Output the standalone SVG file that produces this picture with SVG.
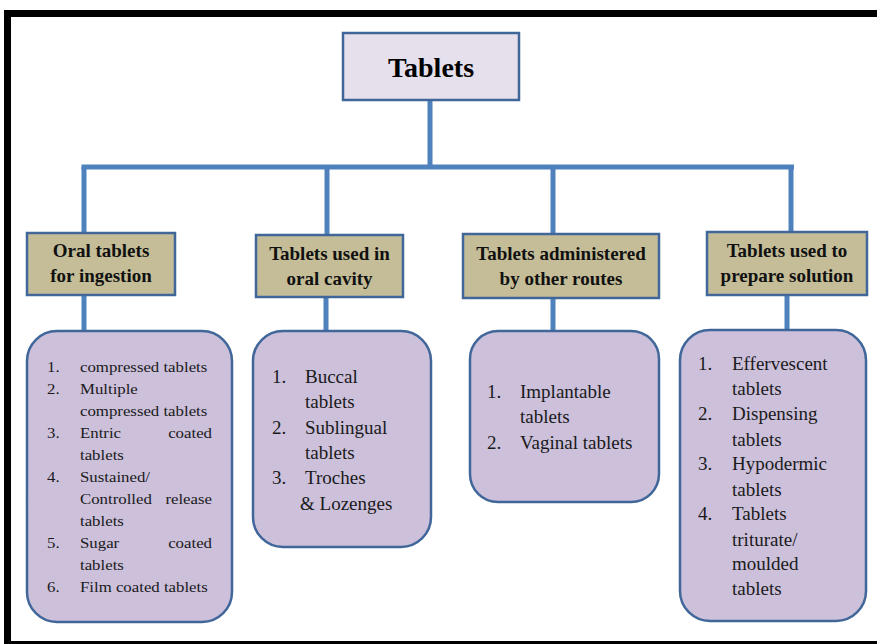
<svg xmlns="http://www.w3.org/2000/svg" width="877" height="644" viewBox="0 0 877 644">
<style>
.frame{fill:#ffffff;stroke:#000000;stroke-width:7}
.conn{stroke:#4f81bd;stroke-width:5;fill:none;stroke-linecap:butt}
.root{fill:#e5e0ec;stroke:#41679a;stroke-width:2.5}
.cat{fill:#c4bd97;stroke:#41679a;stroke-width:2.5}
.list{fill:#ccc0da;stroke:#41679a;stroke-width:2.5}
.title{font-family:"Liberation Serif","Times New Roman",serif;font-weight:bold;font-size:28px;fill:#000;text-anchor:middle}
.ct{font-family:"Liberation Serif","Times New Roman",serif;font-weight:bold;font-size:19px;fill:#111;text-anchor:middle}
.lt{font-family:"Liberation Serif","Times New Roman",serif;font-size:19px;fill:#1a1a1a}
.st{font-family:"Liberation Serif","Times New Roman",serif;font-size:14px;fill:#1a1a1a}
.e{text-anchor:end}
</style>
<rect x="0" y="0" width="877" height="644" fill="#ffffff"/>
<rect class="frame" x="7.5" y="13.5" width="900" height="631"/>

<g id="connectors">
<line class="conn" x1="430" y1="100" x2="430" y2="167"/>
<line class="conn" x1="81.5" y1="167" x2="794" y2="167"/>
<line class="conn" x1="84" y1="167" x2="84" y2="233"/>
<line class="conn" x1="327" y1="167" x2="327" y2="235"/>
<line class="conn" x1="553" y1="167" x2="553" y2="234"/>
<line class="conn" x1="791" y1="167" x2="791" y2="232"/>
<line class="conn" x1="84" y1="295" x2="84" y2="331"/>
<line class="conn" x1="326" y1="297" x2="326" y2="331"/>
<line class="conn" x1="553" y1="298" x2="553" y2="331"/>
<line class="conn" x1="787" y1="295" x2="787" y2="330"/>
</g>

<g id="tablets">
<rect class="root" x="343" y="33" width="176" height="67"/>
<text class="title" x="431" y="77">Tablets</text>
</g>

<g id="oral-tablets">
<rect class="cat" x="27" y="233" width="148" height="62"/>
<text class="ct" x="101" y="257">Oral tablets</text>
<text class="ct" x="101" y="282">for ingestion</text>
</g>

<g id="oral-cavity">
<rect class="cat" x="256" y="235" width="147" height="62"/>
<text class="ct" x="329.5" y="260">Tablets used in</text>
<text class="ct" x="329.5" y="285">oral cavity</text>
</g>

<g id="other-routes">
<rect class="cat" x="463" y="234" width="196" height="64"/>
<text class="ct" x="561" y="260">Tablets administered</text>
<text class="ct" x="561" y="285">by other routes</text>
</g>

<g id="prepare-solution">
<rect class="cat" x="707" y="232" width="160" height="63"/>
<text class="ct" x="787" y="257">Tablets used to</text>
<text class="ct" x="787" y="282">prepare solution</text>
</g>

<g id="list-oral">
<rect class="list" x="27" y="331" width="205" height="291" rx="30" ry="30"/>
<g transform="translate(80 0) scale(1.2 1)">
<text class="st" x="-27.5" y="372">1.</text><text class="st" x="0" y="372">compressed tablets</text>
<text class="st" x="-27.5" y="394">2.</text><text class="st" x="0" y="394">Multiple</text>
<text class="st" x="0" y="416">compressed tablets</text>
<text class="st" x="-27.5" y="438">3.</text><text class="st" x="0" y="438">Entric</text><text class="st e" x="110" y="438">coated</text>
<text class="st" x="0" y="460">tablets</text>
<text class="st" x="-27.5" y="482">4.</text><text class="st" x="0" y="482">Sustained/</text>
<text class="st" x="0" y="504">Controlled</text><text class="st e" x="110" y="504">release</text>
<text class="st" x="0" y="526">tablets</text>
<text class="st" x="-27.5" y="548">5.</text><text class="st" x="0" y="548">Sugar</text><text class="st e" x="110" y="548">coated</text>
<text class="st" x="0" y="570">tablets</text>
<text class="st" x="-27.5" y="592">6.</text><text class="st" x="0" y="592">Film coated tablets</text>
</g>
</g>

<g id="list-cavity">
<rect class="list" x="253" y="331" width="178" height="216" rx="30" ry="30"/>
<text class="lt" x="272" y="383">1.</text><text class="lt" x="305" y="383">Buccal</text>
<text class="lt" x="305" y="408">tablets</text>
<text class="lt" x="272" y="434">2.</text><text class="lt" x="305" y="434">Sublingual</text>
<text class="lt" x="305" y="459">tablets</text>
<text class="lt" x="272" y="484">3.</text><text class="lt" x="305" y="484">Troches</text>
<text class="lt" x="300" y="510">&amp; Lozenges</text>
</g>

<g id="list-routes">
<rect class="list" x="470" y="331" width="189" height="171" rx="28" ry="28"/>
<text class="lt" x="487" y="398">1.</text><text class="lt" x="520" y="398">Implantable</text>
<text class="lt" x="520" y="423">tablets</text>
<text class="lt" x="487" y="449">2.</text><text class="lt" x="520" y="449">Vaginal tablets</text>
</g>

<g id="list-solution">
<rect class="list" x="680" y="330" width="186" height="291" rx="30" ry="30"/>
<text class="lt" x="698" y="370">1.</text><text class="lt" x="732" y="370">Effervescent</text>
<text class="lt" x="732" y="395">tablets</text>
<text class="lt" x="698" y="420">2.</text><text class="lt" x="732" y="420">Dispensing</text>
<text class="lt" x="732" y="446">tablets</text>
<text class="lt" x="698" y="470">3.</text><text class="lt" x="732" y="470">Hypodermic</text>
<text class="lt" x="732" y="496">tablets</text>
<text class="lt" x="698" y="520">4.</text><text class="lt" x="732" y="520">Tablets</text>
<text class="lt" x="732" y="546">triturate/</text>
<text class="lt" x="732" y="570">moulded</text>
<text class="lt" x="732" y="595">tablets</text>
</g>
</svg>
